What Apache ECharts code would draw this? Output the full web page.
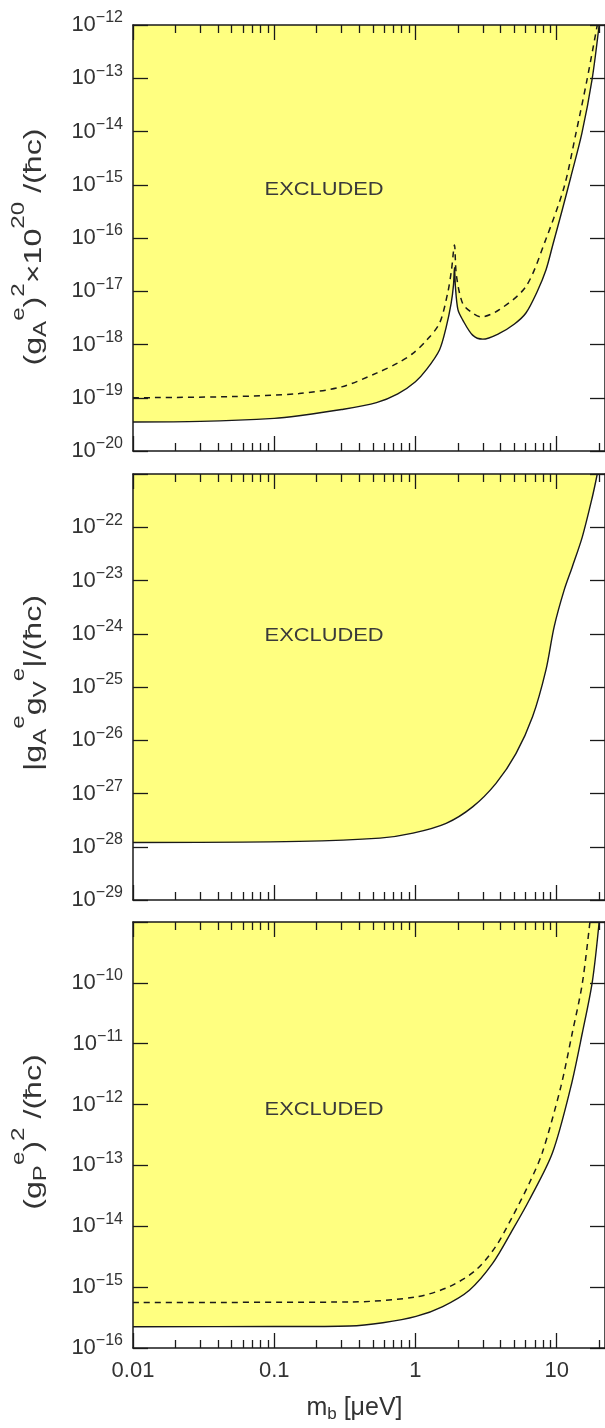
<!DOCTYPE html>
<html>
<head>
<meta charset="utf-8">
<script src="https://cdn.jsdelivr.net/npm/echarts@6/dist/echarts.min.js"></script>
<style>
html, body { margin: 0; padding: 0; background: #fff; }
#chart { width: 605px; height: 1428px; }
</style>
</head>
<body>
<div id="chart"></div>
<script>
// ---- Panel A: (g_A^e)^2 x 10^20 limits ----
const massA = [0.01, 0.03, 0.1, 0.15, 0.3, 0.53, 0.75, 1.0, 1.2, 1.48, 1.65, 1.79, 1.86, 1.89, 1.92, 2.0, 2.16, 2.54, 3.0, 3.9, 5.0, 6.06, 7.3, 8.4, 9.45, 11.0, 12.6, 15.1, 17.8, 20];
const limitA = [3.5e-20, 3.6e-20, 4.1e-20, 4.6e-20, 6.0e-20, 8.1e-20, 1.18e-19, 2.0e-19, 3.4e-19, 7.9e-19, 2.1e-18, 5.9e-18, 1.3e-17, 2.8e-17, 1.2e-17, 4.5e-18, 2.9e-18, 1.5e-18, 1.26e-18, 1.6e-18, 2.4e-18, 3.9e-18, 1.0e-17, 2.5e-17, 7.9e-17, 3.5e-16, 1.4e-15, 9.3e-15, 9.3e-14, 1e-12];
const massAdash = [0.01, 0.05, 0.15, 0.3, 0.53, 0.75, 0.96, 1.2, 1.48, 1.69, 1.8, 1.89, 1.95, 2.16, 2.5, 2.91, 3.93, 6.06, 8.34, 11.3, 13.7, 16.4, 19.4];
const limitAdash = [1.0e-19, 1.05e-19, 1.2e-19, 1.6e-19, 2.9e-19, 4.5e-19, 6.8e-19, 1.2e-18, 2.5e-18, 9.1e-18, 2.5e-17, 7.4e-17, 2.0e-17, 5.9e-18, 4e-18, 3.3e-18, 4.5e-18, 1.23e-17, 9.1e-17, 9.1e-16, 9.3e-15, 9.3e-14, 1e-12];

// ---- Panel V: |g_A^e g_V^e| limits ----
const massV = [0.01, 0.15, 0.56, 0.96, 1.65, 2.54, 3.72, 5.15, 6.75, 8.4, 9.6, 11.3, 12.9, 15.2, 17.9, 19.4];
const limitV = [1.2e-28, 1.26e-28, 1.45e-28, 1.8e-28, 2.75e-28, 5.6e-28, 1.55e-27, 5.6e-27, 2.75e-26, 2.1e-25, 1.35e-24, 6.6e-24, 1.8e-23, 6.6e-23, 3.7e-22, 1e-21];

// ---- Panel P: (g_P^e)^2 limits ----
const massP = [0.01, 0.1, 0.342, 0.588, 1.01, 1.56, 2.41, 3.52, 4.87, 6.4, 9.33, 12.6, 15.2, 17.9, 20];
const limitP = [2.24e-16, 2.25e-16, 2.3e-16, 2.6e-16, 3.3e-16, 4.8e-16, 8.9e-16, 2.45e-15, 8.7e-15, 2.7e-14, 1.6e-13, 1.95e-12, 1.5e-11, 1.05e-10, 1e-9];
const massPdash = [0.01, 0.342, 1.01, 1.74, 2.67, 3.69, 4.87, 6.4, 7.9, 10.7, 12.9, 15.2, 17.2];
const limitPdash = [5.6e-16, 5.7e-16, 6.9e-16, 1.02e-15, 1.9e-15, 4.6e-15, 1.45e-14, 5.1e-14, 1.6e-13, 1.95e-12, 1.5e-11, 9.8e-11, 1e-9];

// ---- axes ----
const massRange = [0.01, 22];
const xMajorTicks = [0.01, 0.1, 1, 10];
const xTickLabels = ['0.01', '0.1', '1', '10'];
const xMinorTicks = [0.02, 0.03, 0.04, 0.05, 0.06, 0.07, 0.08, 0.09,
                     0.2, 0.3, 0.4, 0.5, 0.6, 0.7, 0.8, 0.9,
                     2, 3, 4, 5, 6, 7, 8, 9, 20];
// decade exponents of each coupling axis: [bottom, top], and the decades that carry a label
const yExpRanges = [[-20, -12], [-29, -21], [-16, -9]];
const yLabelExps = [
  [-20, -19, -18, -17, -16, -15, -14, -13, -12],
  [-29, -28, -27, -26, -25, -24, -23, -22],
  [-16, -15, -14, -13, -12, -11, -10]
];
const yNames = [
  '{t|(g}{sub|A}{sup|e}{t|)}{sup|2}{t|×10}{sup|20}{t| /(ħc)}',
  '{t||g}{sub|A}{sup|e}{t|g}{sub|V}{sup|e}{t||/(ħc)}',
  '{t|(g}{sub|P}{sup|e}{t|)}{sup|2}{t| /(ħc)}'
];
const xName = '{t|m}{sub|b}{t| [μeV]}';
const regionLabel = 'EXCLUDED';

const FONT = "'Liberation Sans', Arial, sans-serif";
const INK = '#1a1a1a';
const TEXT = '#333';
const FILL = '#ffff80';
const panelTops = [25, 474, 922];

const axisLine = { show: true, onZero: false, lineStyle: { color: INK, width: 1.5 } };
const tickStyle = { color: INK, width: 1.3 };

const tickRich = {
  b: { fontFamily: FONT, fontSize: 22, color: TEXT, lineHeight: 26 },
  s: { fontFamily: FONT, fontSize: 16, color: TEXT, lineHeight: 26, padding: [0, 0, 14, 0] }
};
const xNameRich = {
  t: { fontFamily: FONT, fontSize: 25, color: TEXT, lineHeight: 30 },
  sub: { fontFamily: FONT, fontSize: 17, color: TEXT, lineHeight: 30, padding: [12, 0, 0, 0] }
};
// rotated coupling names (drawn slightly condensed across the line)
const yNameRich = {
  t: { fontFamily: FONT, fontSize: 28, fill: TEXT, lineHeight: 30 },
  sub: { fontFamily: FONT, fontSize: 21, fill: TEXT, lineHeight: 30, padding: [16, 0, 0, 0] },
  sup: { fontFamily: FONT, fontSize: 21, fill: TEXT, lineHeight: 30, padding: [0, 0, 34, 0] }
};

const pairs = (xs, ys) => xs.map((x, i) => [x, Math.log10(ys[i])]);

function xAxisFor(g, position, ticks, len, withLine, withLabels) {
  const ax = {
    type: 'log', logBase: 10, gridIndex: g, position: position,
    min: massRange[0], max: massRange[1], z: 5,
    axisLine: withLine ? axisLine : { show: false, onZero: false },
    axisTick: { show: true, inside: true, length: len, customValues: ticks, lineStyle: tickStyle },
    axisLabel: { show: false },
    splitLine: { show: false }
  };
  if (withLabels) {
    ax.axisLabel = {
      show: true, customValues: xMajorTicks, margin: 12,
      fontFamily: FONT, fontSize: 22, color: TEXT,
      formatter: v => {
        let best = 0;
        xMajorTicks.forEach((t, i) => {
          if (Math.abs(Math.log10(t / v)) < Math.abs(Math.log10(xMajorTicks[best] / v))) best = i;
        });
        return xTickLabels[best];
      }
    };
    ax.name = xName;
    ax.nameLocation = 'middle';
    ax.nameGap = 45;
    ax.nameTextStyle = { rich: xNameRich, padding: [0, 29, 0, 0] };
  }
  return ax;
}

function yAxesFor(g) {
  const r = yExpRanges[g];
  const common = {
    type: 'value', gridIndex: g, min: r[0], max: r[1], interval: 1, z: 5,
    axisLine: axisLine,
    axisTick: { show: true, inside: true, length: 15, lineStyle: tickStyle },
    splitLine: { show: false }
  };
  const left = Object.assign({}, common, {
    position: 'left',
    axisLabel: {
      show: true, customValues: yLabelExps[g], margin: 10,
      formatter: v => '{b|10}{s|' + String(Math.round(v)).replace('-', '−') + '}',
      rich: tickRich
    }
  });
  const right = Object.assign({}, common, { position: 'right', axisLabel: { show: false } });
  return [left, right];
}

const xAxes = [];
const yAxes = [];
[0, 1, 2].forEach(g => {
  xAxes.push(xAxisFor(g, 'bottom', xMajorTicks, 15, true, g === 2));
  xAxes.push(xAxisFor(g, 'bottom', xMinorTicks, 8, false, false));
  xAxes.push(xAxisFor(g, 'top', xMajorTicks, 15, true, false));
  xAxes.push(xAxisFor(g, 'top', xMinorTicks, 8, false, false));
  yAxes.push(...yAxesFor(g));
});

function boundary(g, xs, ys) {
  return {
    type: 'line', xAxisIndex: 4 * g, yAxisIndex: 2 * g, data: pairs(xs, ys),
    symbol: 'none', smooth: 0.3, z: 2,
    lineStyle: { color: INK, width: 1.4 },
    areaStyle: { color: FILL, opacity: 1, origin: 'end' }
  };
}
function dashed(g, xs, ys) {
  return {
    type: 'line', xAxisIndex: 4 * g, yAxisIndex: 2 * g, data: pairs(xs, ys),
    symbol: 'none', smooth: 0.3, z: 3,
    lineStyle: { color: INK, width: 1.5, type: [6, 5] }
  };
}

const option = {
  animation: false,
  backgroundColor: '#ffffff',
  textStyle: { fontFamily: FONT },
  grid: panelTops.map(t => ({ left: 133, top: t, width: 473, height: 426 })),
  xAxis: xAxes,
  yAxis: yAxes,
  series: [
    boundary(0, massA, limitA),
    dashed(0, massAdash, limitAdash),
    boundary(1, massV, limitV),
    boundary(2, massP, limitP),
    dashed(2, massPdash, limitPdash)
  ]
};

const chart = echarts.init(document.getElementById('chart'), null, { renderer: 'canvas' });
chart.setOption(option);

// "EXCLUDED" captions, anchored in data coordinates (mass, log10 coupling) of each panel
const captionAt = [[0.2255, -15.1], [0.2255, -24.04], [0.2255, -12.09]];
// vertical coupling names, centred beside each panel
const nameCenters = [[34, 247], [34, 683], [34, 1132]];

const graphics = [];
captionAt.forEach((c, g) => {
  const p = chart.convertToPixel({ xAxisIndex: 4 * g, yAxisIndex: 2 * g }, c);
  graphics.push({
    type: 'text', x: p[0], y: p[1], z: 10, scaleX: 1.15,
    style: {
      text: regionLabel, fill: '#3a3a3a', font: "19px 'Liberation Sans', Arial, sans-serif",
      align: 'center', verticalAlign: 'middle'
    }
  });
});
nameCenters.forEach((c, g) => {
  graphics.push({
    type: 'text', x: c[0], y: c[1], z: 10,
    rotation: Math.PI / 2, scaleX: 1.15, scaleY: 0.85,
    style: {
      text: yNames[g], rich: yNameRich, fill: TEXT,
      font: "28px 'Liberation Sans', Arial, sans-serif",
      align: 'center', verticalAlign: 'middle'
    }
  });
});
chart.setOption({ graphic: graphics });
</script>
</body>
</html>
